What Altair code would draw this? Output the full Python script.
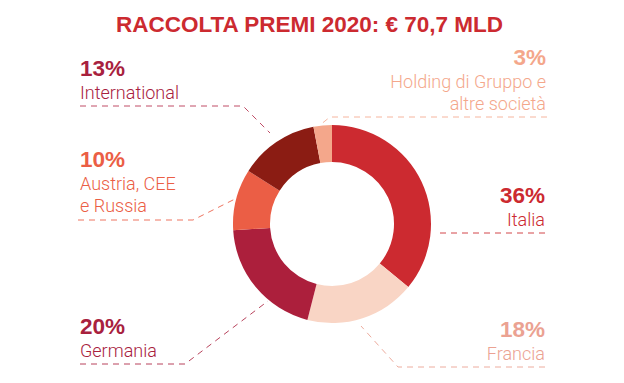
import altair as alt
import pandas as pd

# ---------------- data ----------------
title_text = "RACCOLTA PREMI 2020: € 70,7 MLD"
categories = ["Italia", "Francia", "Germania", "Austria, CEE e Russia",
              "International", "Holding di Gruppo e altre società"]
shares = [36, 18, 20, 10, 13, 3]
pct_labels = ["36%", "18%", "20%", "10%", "13%", "3%"]
name_lines = [["Italia"], ["Francia"], ["Germania"], ["Austria, CEE", "e Russia"],
              ["International"], ["Holding di Gruppo e", "altre società"]]
slice_colors = ["#CC2A30", "#F9D5C5", "#AC1F3C", "#EB5E45", "#8B1C13", "#F4A78B"]
text_colors = ["#CC2A30", "#EBA292", "#A8213E", "#EB5E45", "#A8213E", "#F4A78B"]
line_colors = ["#D2464B", "#EDAC9E", "#B8435C", "#EE7460", "#C04C66", "#F6B59E"]

# ---------------- layout (page pixels) ----------------
W, H = 608, 367
M = 8  # page margin
center = (332, 224)
r_outer, r_inner = 99, 62
label_side = ["right", "right", "left", "left", "left", "right"]
label_x = [545, 545, 80, 80, 80, 546]
pct_base = [203, 337, 334, 167, 76, 65]
name_gap = 23
line_h = 22
leaders = [
    [(545, 233), (437, 233)],
    [(545, 367), (398, 367), (361, 326)],
    [(80, 364), (185, 364), (268, 301)],
    [(78, 220), (193, 220), (237, 198)],
    [(80, 106), (243, 106), (270, 133)],
    [(547, 117), (330, 117), (320, 125)],
]

FONT = "Liberation Sans"
NAME_FONT = "Roboto"

slices = pd.DataFrame({"cat": categories, "share": shares, "idx": range(len(categories))})

pct_rows, name_rows, lead_rows = [], [], []
for i, cat in enumerate(categories):
    pct_rows.append({"x": label_x[i] - M, "y": pct_base[i] - M, "t": pct_labels[i],
                     "c": text_colors[i], "side": label_side[i]})
    for k, ln in enumerate(name_lines[i]):
        name_rows.append({"x": label_x[i] - M, "y": pct_base[i] + name_gap + k * line_h - M,
                          "t": ln, "c": text_colors[i], "side": label_side[i]})
    for j, (px, py) in enumerate(leaders[i]):
        lead_rows.append({"x": px - M, "y": py - M, "id": cat, "o": j, "c": line_colors[i]})

pct_df = pd.DataFrame(pct_rows)
name_df = pd.DataFrame(name_rows)
lead_df = pd.DataFrame(lead_rows)
title_df = pd.DataFrame({"x": [309.5 - M], "y": [32 - M], "t": [title_text]})

xs = alt.Scale(domain=[0, W], range=[0, W])
ys = alt.Scale(domain=[0, H], range=[0, H])

donut = alt.Chart(slices).mark_arc(outerRadius=r_outer, innerRadius=r_inner).encode(
    theta=alt.Theta("share:Q", stack=True),
    order=alt.Order("idx:Q"),
    color=alt.Color("cat:N", scale=alt.Scale(domain=categories, range=slice_colors), legend=None),
    x=alt.value(center[0] - M),
    y=alt.value(center[1] - M),
)

lines = alt.Chart(lead_df).mark_line(strokeDash=[6, 5], strokeWidth=1).encode(
    x=alt.X("x:Q", scale=xs, axis=None),
    y=alt.Y("y:Q", scale=ys, axis=None),
    detail="id:N",
    order="o:Q",
    color=alt.Color("c:N", scale=None),
)

def text_layer(df, side, size, weight, font):
    return alt.Chart(df).transform_filter(alt.datum.side == side).mark_text(
        align=side, baseline="alphabetic", font=font, fontSize=size, fontWeight=weight
    ).encode(
        x=alt.X("x:Q", scale=xs, axis=None),
        y=alt.Y("y:Q", scale=ys, axis=None),
        text="t:N",
        color=alt.Color("c:N", scale=None),
    )

title = alt.Chart(title_df).mark_text(
    align="center", baseline="alphabetic", font=FONT, fontSize=22.5, fontWeight="bold", color="#CC2A30"
).encode(
    x=alt.X("x:Q", scale=xs, axis=None),
    y=alt.Y("y:Q", scale=ys, axis=None),
    text="t:N",
)

chart = alt.layer(
    lines, donut,
    text_layer(pct_df, "left", 22.5, "bold", FONT), text_layer(pct_df, "right", 22.5, "bold", FONT),
    text_layer(name_df, "left", 18, 300, NAME_FONT), text_layer(name_df, "right", 18, 300, NAME_FONT),
    title,
).properties(
    width=W, height=H, autosize=alt.AutoSizeParams(type="none"), padding=0
).configure_view(stroke=None)

chart.save("out.html", embed_options={"renderer": "svg", "actions": False})
